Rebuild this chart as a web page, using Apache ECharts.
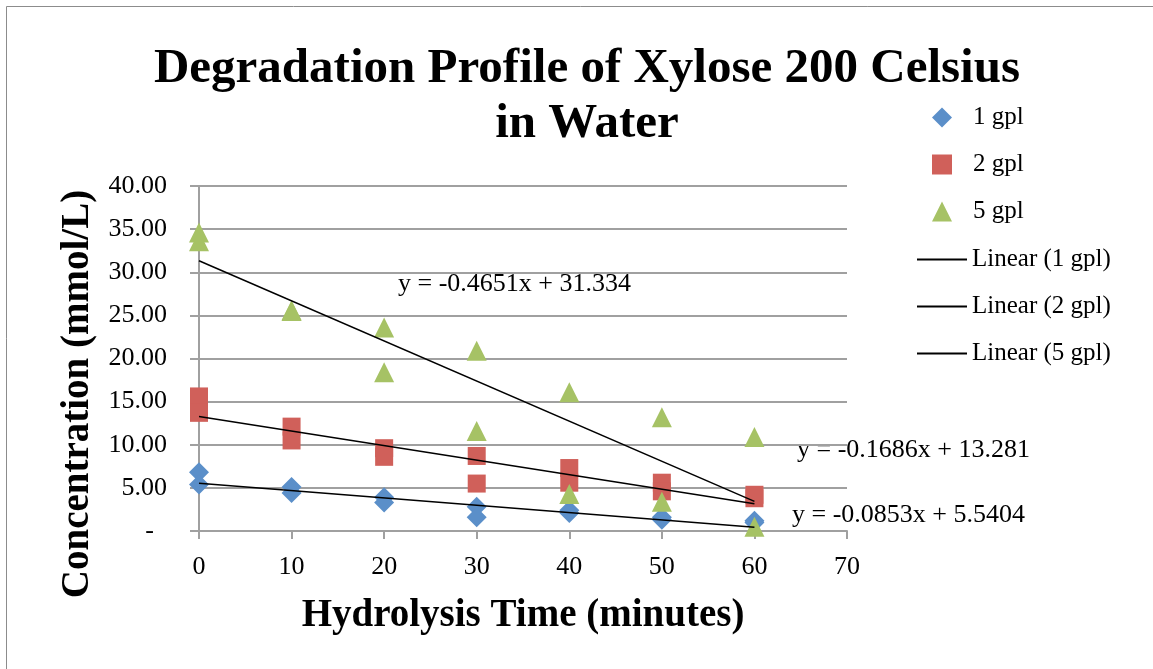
<!DOCTYPE html>
<html><head><meta charset="utf-8">
<script src="https://cdn.jsdelivr.net/npm/echarts@6/dist/echarts.min.js"></script>
<style>html,body{margin:0;padding:0;background:#fff}#c{width:1153px;height:669px}</style>
</head><body><div id="c"></div>
<script>
// ---- data ----
const xTimes = [0, 0, 10, 10, 20, 20, 30, 30, 40, 40, 50, 50, 60, 60];
const gpl1 = [6.8, 5.4, 5.1, 4.4, 3.9, 3.3, 2.8, 1.6, 2.4, 2.1, 1.6, 1.3, 1.2, 1.0];
const gpl2 = [15.6, 13.7, 12.1, 10.5, 9.6, 8.6, 8.7, 5.5, 7.3, 5.6, 5.6, 4.6, 4.2, 3.8];
const gpl5 = [34.6, 33.6, 25.6, 25.5, 23.6, 18.4, 20.9, 11.6, 16.1, 4.3, 13.2, 3.4, 10.9, 0.5];
const seriesNames = ['1 gpl', '2 gpl', '5 gpl'];
const trendNames = ['Linear (1 gpl)', 'Linear (2 gpl)', 'Linear (5 gpl)'];
const trendSlopes = [-0.0853, -0.1686, -0.4651];
const trendIntercepts = [5.5404, 13.281, 31.334];
const trendLabels = ['y = -0.0853x + 5.5404', 'y = -0.1686x + 13.281', 'y = -0.4651x + 31.334'];
const trendRange = [0, 60];
const xTicks = [0, 10, 20, 30, 40, 50, 60, 70];
const yTicks = [0, 5, 10, 15, 20, 25, 30, 35, 40];

const FONT = '"Liberation Serif", "DejaVu Serif", serif';
const colors = ['#5b8fc9', '#d0605a', '#a6c265'];
const symbols = ['diamond', 'rect', 'triangle'];
const symSizes = [20, 18, 20];
const values = [gpl1, gpl2, gpl5];

const series = [];
values.forEach((vals, i) => {
  series.push({
    name: seriesNames[i], type: 'scatter', symbol: symbols[i], symbolSize: symSizes[i],
    itemStyle: {color: colors[i], opacity: 1}, z: 3,
    data: xTimes.map((x, k) => [x, vals[k]])
  });
});
trendNames.forEach((n, i) => {
  series.push({
    name: n, type: 'line', symbol: 'none', z: 4, silent: true,
    lineStyle: {color: '#000', width: 1.5}, itemStyle: {color: '#000'},
    data: trendRange.map(x => [x, trendSlopes[i] * x + trendIntercepts[i]])
  });
});

const chart = echarts.init(document.getElementById('c'), null, {renderer: 'canvas'});
chart.setOption({
  animation: false,
  backgroundColor: '#fff',
  textStyle: {fontFamily: FONT},
  grid: {left: 199, right: 306, top: 186, bottom: 138},
  xAxis: {
    type: 'value', min: xTicks[0], max: xTicks[xTicks.length - 1], interval: 10,
    axisLine: {show: true, lineStyle: {color: '#a0a0a0', width: 2}},
    axisTick: {show: true, length: 8, lineStyle: {color: '#a0a0a0', width: 2}},
    axisLabel: {color: '#000', fontSize: 26, fontFamily: FONT, margin: 23},
    splitLine: {show: false},
    name: 'Hydrolysis Time (minutes)', nameLocation: 'middle', nameGap: 65,
    nameTextStyle: {color: '#000', fontSize: 39, fontWeight: 'bold', fontFamily: FONT}
  },
  yAxis: {
    type: 'value', min: yTicks[0], max: yTicks[yTicks.length - 1], interval: 5,
    axisLine: {show: true, lineStyle: {color: '#a0a0a0', width: 2}},
    axisTick: {show: true, length: 9, lineStyle: {color: '#a0a0a0', width: 2}},
    axisLabel: {color: '#000', fontSize: 26, fontFamily: FONT, margin: 32,
      formatter: v => v === 0 ? '-  ' : v.toFixed(2)},
    splitLine: {show: true, lineStyle: {color: '#a0a0a0', width: 2}}
  },
  legend: [{
    orient: 'vertical', left: 927, top: 100, itemWidth: 20, itemHeight: 20, itemGap: 22,
    textStyle: {color: '#000', fontSize: 25, fontFamily: FONT, lineHeight: 18, padding: [0, 0, 0, 16]},
    data: seriesNames
  }, {
    orient: 'vertical', left: 912, top: 242, itemWidth: 50, itemHeight: 2, itemGap: 22,
    textStyle: {color: '#000', fontSize: 25, fontFamily: FONT, lineHeight: 18},
    data: trendNames.map(n => ({name: n, icon: 'rect', itemStyle: {color: '#000'}}))
  }],
  title: {
    text: 'Degradation Profile of Xylose 200 Celsius\nin Water',
    left: 582, top: 37, textAlign: 'center',
    textStyle: {fontSize: 49, fontWeight: 'bold', color: '#000', fontFamily: FONT, lineHeight: 55}
  },
  graphic: [
    {type: 'rect', shape: {x: 6.5, y: 6.5, width: 1200, height: 700}, style: {fill: 'none', stroke: '#8c8c8c', lineWidth: 1}, silent: true},
    {type: 'text', x: 78, y: 394, rotation: Math.PI / 2,
      style: {text: 'Concentration (mmol/L)', fontSize: 39, fontWeight: 'bold', fontFamily: FONT, fill: '#000', align: 'center', verticalAlign: 'middle'}},
    {type: 'text', x: 398, y: 284, style: {text: trendLabels[2], fontSize: 26, fontFamily: FONT, fill: '#000', verticalAlign: 'middle'}},
    {type: 'text', x: 797, y: 450, style: {text: trendLabels[1], fontSize: 26, fontFamily: FONT, fill: '#000', verticalAlign: 'middle'}},
    {type: 'text', x: 792, y: 515, style: {text: trendLabels[0], fontSize: 26, fontFamily: FONT, fill: '#000', verticalAlign: 'middle'}}
  ],
  series: series
});
</script></body></html>
